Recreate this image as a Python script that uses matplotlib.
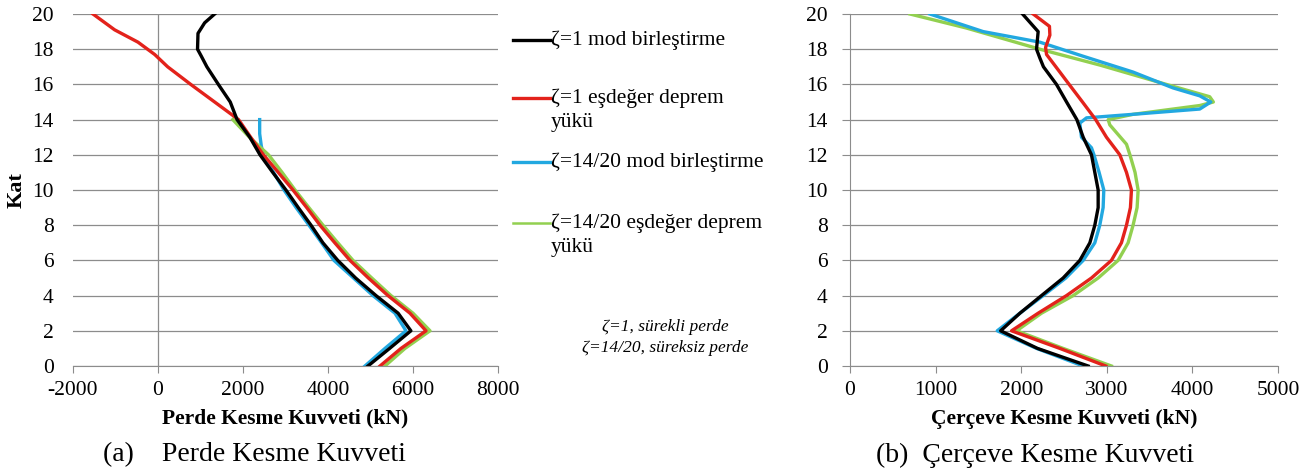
import numpy as np
import matplotlib
matplotlib.use("Agg")
import matplotlib.pyplot as plt
from matplotlib.lines import Line2D

plt.rcParams['font.family'] = ['Liberation Serif', 'DejaVu Serif']
plt.rcParams['axes.unicode_minus'] = False

# --- (a) Perde kesme kuvveti (kN) vs kat ---
wall_black_y = [0, 1, 2, 3, 4, 5, 6, 7, 8, 9, 10, 11, 12, 13, 14, 15, 16, 17, 17.6, 18, 18.9, 19.5, 20]
wall_black_x = [4940, 5450, 5950, 5650, 5130, 4650, 4230, 3880, 3600, 3300, 3010, 2700, 2400, 2160, 1860,
                1700, 1420, 1150, 1020, 930, 941, 1098, 1333]

wall_red_y = [0, 1, 2, 3, 4, 5, 6, 7, 8, 9, 10, 11, 12, 13, 14, 15, 16, 17, 17.7, 18.4, 19.1, 20]
wall_red_x = [5224, 5718, 6306, 5929, 5412, 4950, 4518, 4160, 3812, 3500, 3176, 2830, 2480, 2180, 1895,
              1333, 770, 227, -78, -471, -1020, -1530]

wall_blue_y = [0, 1, 2, 3, 4, 5, 6, 7, 8, 9, 10, 11, 12, 12.5, 13.2, 14]
wall_blue_x = [4870, 5341, 5835, 5576, 5059, 4600, 4141, 3850, 3553, 3250, 2965, 2720, 2480, 2431, 2392, 2392]

wall_green_y = [0, 1, 2, 3, 4, 5, 6, 7, 8, 9, 10, 11, 12, 13, 14]
wall_green_x = [5341, 5812, 6400, 6000, 5482, 5030, 4588, 4230, 3882, 3550, 3224, 2920, 2600, 2150, 1760]

# --- (b) Cerceve kesme kuvveti (kN) vs kat ---
frame_black_y = [0, 1, 2, 3, 4, 5, 6, 7, 8, 9, 10, 11, 12, 13, 14, 15, 16, 17, 17.5, 18, 19, 20]
frame_black_x = [2782, 2190, 1760, 1985, 2237, 2490, 2685, 2802, 2860, 2899, 2899, 2860, 2821, 2724, 2650,
                 2530, 2412, 2260, 2218, 2179, 2198, 2016]

frame_red_y = [0, 1, 2, 3, 4, 5, 6, 7, 8, 9, 10, 11, 12, 13, 14, 15, 16, 17, 17.7, 18.1, 18.8, 19.3, 20]
frame_red_x = [2988, 2451, 1887, 2198, 2529, 2821, 3054, 3171, 3230, 3276, 3288, 3230, 3152, 2996, 2870,
               2716, 2560, 2405, 2296, 2285, 2335, 2330, 2140]

frame_blue_y = [0, 1, 2, 3, 4, 5, 6, 7, 8, 9, 10, 11, 12, 12.4, 13, 13.8, 14.1, 14.3, 14.6, 15, 15.35,
                15.8, 16.7, 17.6, 18.4, 19, 20]
frame_blue_x = [2724, 2179, 1720, 1985, 2257, 2521, 2724, 2860, 2918, 2957, 2965, 2910, 2850, 2821, 2704,
                2685, 2763, 3307, 4086, 4215, 4086, 3774, 3307, 2724, 2218, 1556, 933]

frame_green_y = [0, 1, 2, 3, 4, 5, 6, 7, 8, 9, 10, 11, 12, 12.6, 13.7, 14, 14.3, 14.8, 15, 15.3, 16,
                 17.1, 18, 19.2, 20]
frame_green_x = [3054, 2490, 1946, 2237, 2607, 2899, 3132, 3249, 3307, 3354, 3366, 3330, 3270, 3230, 3035,
                 3016, 3307, 4086, 4245, 4202, 3696, 2918, 2218, 1362, 700]

labels = ["ζ=1 mod birleştirme", "ζ=1 eşdeğer deprem\nyükü",
          "ζ=14/20 mod birleştirme", "ζ=14/20 eşdeğer deprem\nyükü"]
colors = ['#000000', '#e3221b', '#22a8e0', '#92d050']

W, H = 1309, 475
fig = plt.figure(figsize=(W / 100, H / 100), dpi=100)
ax1 = fig.add_axes([73 / W, 1 - 366 / H, 425 / W, 352 / H])
ax2 = fig.add_axes([850 / W, 1 - 366 / H, 428 / W, 352 / H])

gridc = '#8c8c8c'
lw = 2.4

for ax in (ax1, ax2):
    ax.set_ylim(0, 20)
    ax.set_yticks(np.arange(0, 21, 2))
    ax.yaxis.grid(True, color=gridc, lw=0.9)
    ax.set_axisbelow(True)
    for s in ('top', 'right'):
        ax.spines[s].set_visible(False)
    ax.spines['bottom'].set_color(gridc)
    ax.tick_params(axis='x', direction='out', length=5, color=gridc, labelsize=15.5, pad=6)
    ax.tick_params(axis='y', labelsize=15.5)

# left panel
ax1.set_xlim(-2000, 8000)
ax1.set_xticks(np.arange(-2000, 8001, 2000))
ax1.spines['left'].set_visible(False)
ax1.axvline(0, color=gridc, lw=0.9, zorder=0.5)
ax1.tick_params(axis='y', length=0, pad=14)
ax1.plot(wall_blue_x, wall_blue_y, color=colors[2], lw=lw)
ax1.plot(wall_green_x, wall_green_y, color=colors[3], lw=lw)
ax1.plot(wall_red_x, wall_red_y, color=colors[1], lw=lw)
ax1.plot(wall_black_x, wall_black_y, color=colors[0], lw=lw)
ax1.set_xlabel("Perde Kesme Kuvveti (kN)", fontsize=15.5, fontweight='bold', labelpad=6)
ax1.set_ylabel("Kat", fontsize=16, fontweight='bold')
ax1.yaxis.set_label_coords(-0.108, 0.5)

# right panel
ax2.set_xlim(0, 5000)
ax2.set_xticks(np.arange(0, 5001, 1000))
ax2.spines['left'].set_color(gridc)
ax2.tick_params(axis='y', direction='out', length=6, color=gridc, pad=10)
ax2.plot(frame_green_x, frame_green_y, color=colors[3], lw=lw)
ax2.plot(frame_blue_x, frame_blue_y, color=colors[2], lw=lw)
ax2.plot(frame_red_x, frame_red_y, color=colors[1], lw=lw)
ax2.plot(frame_black_x, frame_black_y, color=colors[0], lw=lw)
ax2.set_xlabel("Çerçeve Kesme Kuvveti (kN)", fontsize=15.5, fontweight='bold', labelpad=6)

# legend between the panels
leg_y = [40, 98, 162, 223]
for lab, c, yy in zip(labels, colors, leg_y):
    fy = 1 - yy / H
    fig.add_artist(Line2D([513 / W, 550 / W], [fy, fy], color=c, lw=lw if c != colors[3] else 1.8,
                          transform=fig.transFigure))
    fig.text(551 / W, fy + 9 / H, lab, fontsize=15.5, va='top', ha='left', linespacing=1.3)

fig.text(665 / W, 1 - 327 / H, "ζ=1, sürekli perde", fontsize=12.5, style='italic',
         ha='center', va='center')
fig.text(665 / W, 1 - 348 / H, "ζ=14/20, süreksiz perde", fontsize=12.5, style='italic',
         ha='center', va='center')

fig.text(103 / W, 1 - 455 / H, "(a)    Perde Kesme Kuvveti", fontsize=20, va='center')
fig.text(876 / W, 1 - 455 / H, "(b)  Çerçeve Kesme Kuvveti", fontsize=20, va='center')

fig.savefig("out.png", dpi=100)
